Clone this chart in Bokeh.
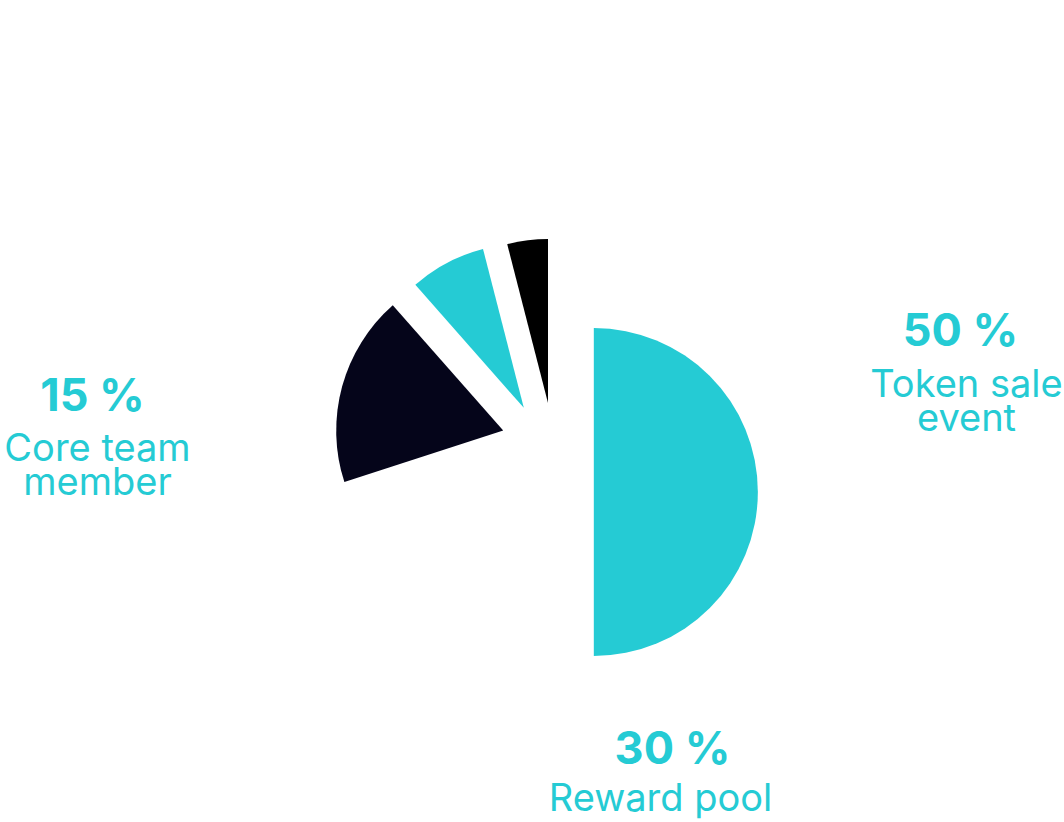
import math
from bokeh.plotting import figure
from bokeh.models import ColumnDataSource, Range1d
from bokeh.core.properties import value
from bokeh.embed import file_html
from bokeh.resources import INLINE

# ---- data ----
slice_names = ["Token sale event", "Reward pool", "Core team member", "Segment 4", "Segment 5"]
slice_values = [50, 20, 18.5, 7.5, 4]
slice_colors = ["#25CBD4", "#FFFFFF", "#05051A", "#25CBD4", "#000000"]

label_pcts = ["50 %", "30 %", "15 %"]
label_names = [["Token sale", "event"], ["Reward pool"], ["Core team", "member"]]

# ---- layout (pixel space, y measured from top of page) ----
W, H = 1064, 822
pie_cx, pie_cy = 548, 491.5
slice_radius = [164, 164, 167, 164, 164]
explode_dx = [45.3, 0, -45.3, -24.7, -0.5]
explode_dy = [0, 0, -61.5, -84.2, -89.0]

pct_x = [960, 672, 92]
name_x = [966, 660, 97]
pct_baseline = [347, 765, 412]
name_baseline0 = [397, 811, 461]
name_step = 34
pct_size, name_size = 45, 38
baseline_fix = 0.39  # compensation for the renderer's baseline placement


def fy(y):
    return H - y


total = float(sum(slice_values))
starts, ends, xs, ys = [], [], [], []
cum = 0.0
for i, v in enumerate(slice_values):
    a0 = 90 - cum / total * 360
    cum += v
    a1 = 90 - cum / total * 360
    starts.append(math.radians(a0))
    ends.append(math.radians(a1))
    xs.append(pie_cx + explode_dx[i])
    ys.append(fy(pie_cy + explode_dy[i]))

src = ColumnDataSource(dict(x=xs, y=ys, start=starts, end=ends, r=slice_radius,
                            color=slice_colors, name=slice_names, val=slice_values))

p = figure(width=W, height=H, output_backend="svg", toolbar_location=None,
           x_range=Range1d(0, W), y_range=Range1d(0, H), min_border=0)
p.axis.visible = False
p.grid.visible = False
p.outline_line_color = None
p.background_fill_color = "white"
p.border_fill_color = "white"

p.wedge(x="x", y="y", radius="r", radius_units="screen",
        start_angle="start", end_angle="end", direction="clock",
        fill_color="color", line_color=None, source=src)

teal = "#25CBD4"
for i in range(len(label_pcts)):
    p.text(x=[pct_x[i]], y=[fy(pct_baseline[i] - baseline_fix * pct_size)], text=[label_pcts[i]],
           text_font=value("Inter"), text_font_style="bold",
           text_font_size=f"{pct_size}px", text_color=teal,
           text_align="center", text_baseline="alphabetic")
    for j, line in enumerate(label_names[i]):
        p.text(x=[name_x[i]], y=[fy(name_baseline0[i] + j * name_step - baseline_fix * name_size)],
               text=[line], text_font=value("Inter"), text_font_size=f"{name_size}px",
               text_color=teal, text_align="center", text_baseline="alphabetic")

open("out.html", "w").write(file_html(p, INLINE))
